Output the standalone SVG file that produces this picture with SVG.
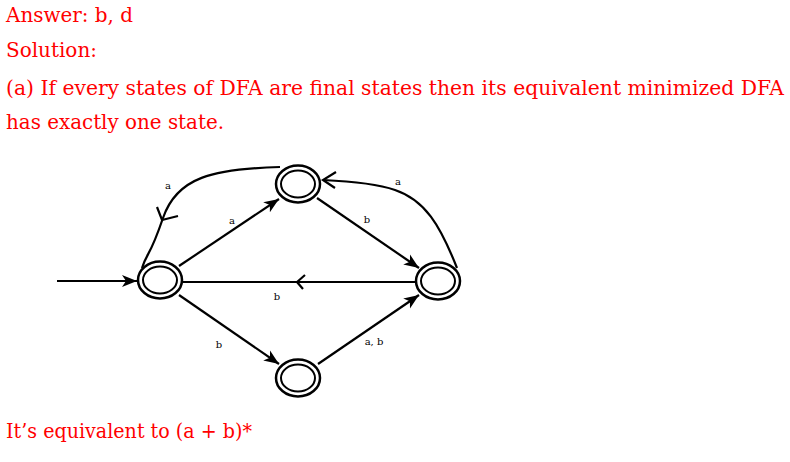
<svg xmlns="http://www.w3.org/2000/svg" width="790" height="462" viewBox="0 0 790 462">
<style>
.t{font-family:"DejaVu Serif","Liberation Serif",serif;font-size:20px;fill:#ff0000}
.l{font-family:"DejaVu Serif","Liberation Serif",serif;font-size:10px;fill:#000}
.e{stroke:#000;stroke-width:2.2;fill:none}
.o{stroke:#000;stroke-width:2.5;fill:#fff}
.i{stroke:#000;stroke-width:2;fill:none}
</style>
<defs>
<marker id="arr" markerUnits="userSpaceOnUse" markerWidth="18" markerHeight="14" refX="15" refY="7" orient="auto">
<path d="M0,1 L15,7 L0,13 L4,7 z" fill="#000"/>
</marker>
</defs>
<rect width="790" height="462" fill="#fff"/>
<g id="texts">
<text class="t" x="6" y="22" textLength="127" lengthAdjust="spacingAndGlyphs">Answer: b, d</text>
<text class="t" x="6" y="57" textLength="91" lengthAdjust="spacingAndGlyphs">Solution:</text>
<text class="t" x="6" y="95" textLength="778" lengthAdjust="spacingAndGlyphs">(a) If every states of DFA are final states then its equivalent minimized DFA</text>
<text class="t" x="6" y="129" textLength="218" lengthAdjust="spacingAndGlyphs">has exactly one state.</text>
<text class="t" x="6" y="438" textLength="246" lengthAdjust="spacingAndGlyphs">It’s equivalent to (a + b)*</text>
</g>
<g id="connectors">
<line class="e" x1="57" y1="281" x2="137" y2="281" marker-end="url(#arr)"/>
<line class="e" x1="179" y1="266" x2="279" y2="199" marker-end="url(#arr)"/>
<line class="e" x1="317" y1="198" x2="419" y2="268" marker-end="url(#arr)"/>
<line class="e" x1="179" y1="295" x2="279" y2="364" marker-end="url(#arr)"/>
<line class="e" x1="318" y1="364" x2="419" y2="295" marker-end="url(#arr)"/>
<line class="e" x1="183" y1="282" x2="416" y2="282"/>
<path class="e" d="M305,275 L297,282 L303,289"/>
<path class="e" d="M280,167 C213,169 177,177 163,218 S148,250 142,268"/>
<path class="e" d="M157,207 L162,220 L178,216"/>
<path class="e" d="M457,268 C440,225 425,200 395,190 C375,183 345,181 323,180"/>
<path class="e" d="M336,172 L323,180 L335,188"/>
<text class="l" x="168" y="189" text-anchor="middle">a</text>
<text class="l" x="232" y="224" text-anchor="middle">a</text>
<text class="l" x="367" y="223" text-anchor="middle">b</text>
<text class="l" x="398" y="185" text-anchor="middle">a</text>
<text class="l" x="277" y="300" text-anchor="middle">b</text>
<text class="l" x="219" y="348" text-anchor="middle">b</text>
<text class="l" x="374" y="345" text-anchor="middle">a, b</text>
</g>
<g id="q0"><ellipse class="o" cx="160" cy="280" rx="22" ry="18.5"/><ellipse class="i" cx="160" cy="280" rx="17" ry="13.5"/></g>
<g id="q1"><ellipse class="o" cx="298" cy="184" rx="22" ry="18.5"/><ellipse class="i" cx="298" cy="184" rx="17" ry="13.5"/></g>
<g id="q2"><ellipse class="o" cx="438" cy="281" rx="22" ry="18.5"/><ellipse class="i" cx="438" cy="281" rx="17" ry="13.5"/></g>
<g id="q3"><ellipse class="o" cx="298" cy="378" rx="22" ry="18.5"/><ellipse class="i" cx="298" cy="378" rx="17" ry="13.5"/></g>
</svg>
